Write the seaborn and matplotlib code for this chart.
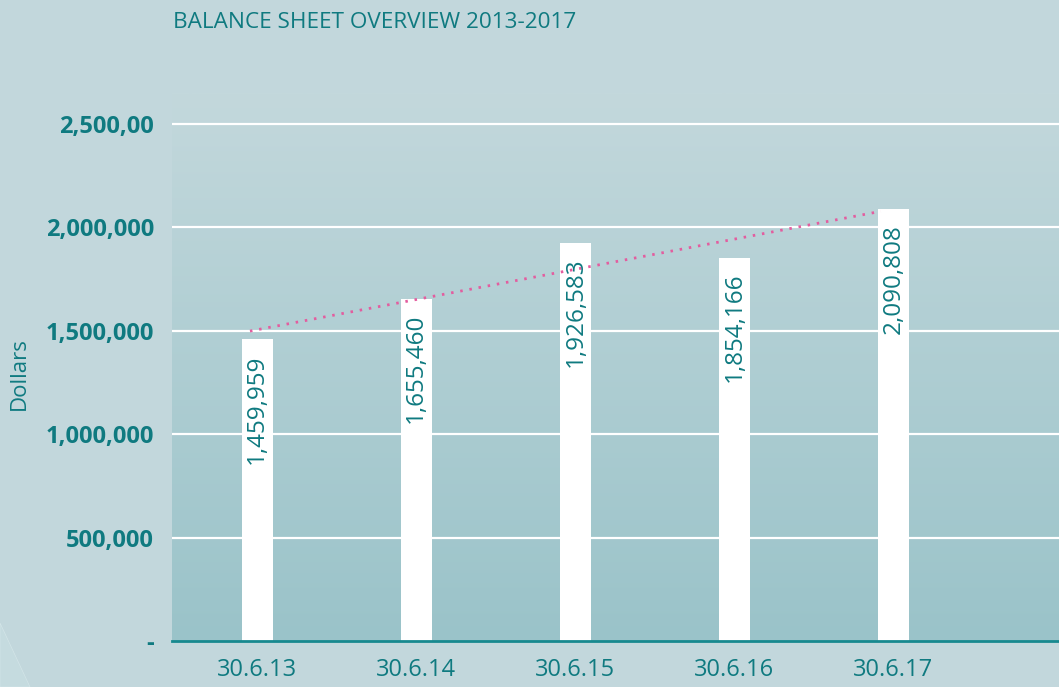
import numpy as np
import pandas as pd
import matplotlib
matplotlib.use("Agg")
import matplotlib.pyplot as plt
from matplotlib.colors import LinearSegmentedColormap
from matplotlib.patches import Polygon
import seaborn as sns

# ---- data ----
categories = ["30.6.13", "30.6.14", "30.6.15", "30.6.16", "30.6.17"]
values = [1459959, 1655460, 1926583, 1854166, 2090808]
value_labels = ["1,459,959", "1,655,460", "1,926,583", "1,854,166", "2,090,808"]
y_ticks = [0, 500000, 1000000, 1500000, 2000000, 2500000]
y_tick_labels = ["-", "500,000", "1,000,000", "1,500,000", "2,000,000", "2,500,00"]
title = "BALANCE SHEET OVERVIEW 2013-2017"
y_label = "Dollars"

# ---- style ----
sns.set_theme(style="white")
plt.rcParams["font.family"] = ["Open Sans", "DejaVu Sans"]
BG = "#c2d7dc"
TEAL = "#0f7a80"
PINK = "#e35d9f"

fig = plt.figure(figsize=(10.59, 6.87), dpi=100, facecolor=BG)
# faint decorative diagonal in bottom-left corner
fig.patches.append(Polygon([[0, 0], [30 / 1059, 0], [0, 64 / 687]], closed=True,
                           transform=fig.transFigure, facecolor="#c5dbdf",
                           edgecolor="#d3e5e8", lw=0.5, zorder=0))

ax = fig.add_axes([172 / 1059, 46 / 687, 1 - 172 / 1059, (641 - 93) / 687])
ax.set_facecolor("none")

# gradient background of plot area
grad = np.linspace(0, 1, 256).reshape(-1, 1)
cmap = LinearSegmentedColormap.from_list("bgg", ["#9ac3c9", "#c3d8dc"])
ax.imshow(grad, aspect="auto", cmap=cmap, origin="lower",
          extent=[0, 1, 0, 1], transform=ax.transAxes, zorder=0)

df = pd.DataFrame({"date": categories, "value": values})
sns.barplot(data=df, x="date", y="value", color="white", width=0.195,
            saturation=1, ax=ax, zorder=3, edgecolor="none")

ax.set_xlim(-0.535, 5.04)
ax.set_ylim(0, 2650000)

# gridlines
for t in y_ticks[1:]:
    ax.axhline(t, color="white", lw=1.6, zorder=1)

# linear trend line from data
xs = np.arange(len(values))
slope, intercept = np.polyfit(xs, values, 1)
tx = np.array([-0.045, 3.92])
ax.plot(tx, slope * tx + intercept, color=PINK, lw=2.0, ls=(0, (0.9, 2.45)),
        zorder=5, dash_capstyle="butt")

# value labels inside bars
for i, (v, lab) in enumerate(zip(values, value_labels)):
    ax.annotate(lab, xy=(i, v), xytext=(0, -11), textcoords="offset points",
                rotation=90, ha="center", va="top", color=TEAL,
                fontsize=17.5, zorder=6)

ax.set_yticks(y_ticks)
ax.set_yticklabels(y_tick_labels, fontsize=17, fontweight="bold", color=TEAL)
ax.tick_params(axis="y", length=0, pad=13)
ax.tick_params(axis="x", length=0, pad=12, labelsize=17, labelcolor=TEAL)
ax.set_xlabel("")
ax.set_ylabel("")

for s in ["left", "right", "top"]:
    ax.spines[s].set_visible(False)
ax.spines["bottom"].set_color("#17898f")
ax.spines["bottom"].set_linewidth(2)
ax.spines["bottom"].set_zorder(7)

fig.text(19 / 1059, 1 - 374 / 687, y_label, rotation=90, ha="center",
         va="center", color=TEAL, fontsize=16)
fig.text(173 / 1059, 1 - 22 / 687, title, ha="left", va="center",
         color=TEAL, fontsize=16.2)

fig.savefig("out.png", dpi=100, facecolor=BG)
